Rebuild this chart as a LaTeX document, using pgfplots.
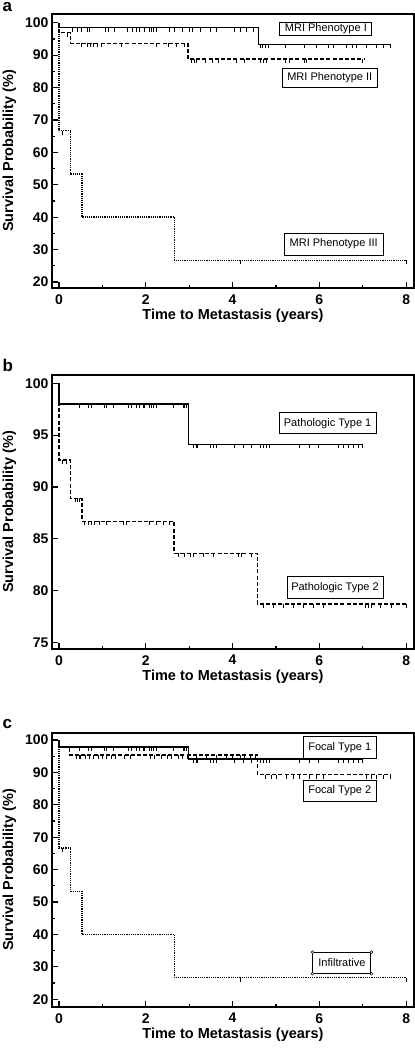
\documentclass[border=0pt]{standalone}
\usepackage{fontspec}
\setmainfont{Liberation Sans}
\usepackage{pgfplots}
\pgfplotsset{compat=1.18}

\pgfdeclareplotmark{cens}{%
  \pgfpathmoveto{\pgfqpoint{0pt}{0pt}}%
  \pgfpathlineto{\pgfqpoint{0pt}{-4pt}}%
  \pgfusepathqstroke}

\tikzset{lbox/.style={draw, line width=1pt, inner sep=0pt, font=\fontsize{11}{11}\selectfont}}

\pgfplotsset{
  km/.style={
    scale only axis, width=362pt, height=274pt,
    xmin=-0.16, xmax=8.18,
    xtick={0,2,4,6,8}, minor x tick num=1,
    xtick pos=bottom, ytick pos=left,
    tick align=inside,
    major tick length=6pt, minor tick length=3pt,
    axis line style={line width=1.8pt},
    every tick/.style={line width=1.2pt, black},
    /pgf/number format/assume math mode=true,
    ticklabel style={font=\fontsize{14}{14}\selectfont\bfseries},
    xticklabel style={yshift=-3pt},
    xlabel={Time to Metastasis (years)},
    ylabel={Survival Probability (\%)},
    every axis x label/.style={at={(rel axis cs:0.5,0)}, anchor=base, yshift=-31.7pt,
      font=\fontsize{14.5}{14.5}\selectfont\bfseries},
    every axis y label/.style={at={(rel axis cs:0,0.5)}, xshift=-42.5pt, rotate=90, anchor=center,
      font=\fontsize{14.5}{14.5}\selectfont\bfseries},
    clip=false,
  },
  sol/.style={black, line width=1.3pt, const plot},
  dsh/.style={black, line width=1.3pt, const plot, dash pattern=on 4pt off 2.2pt},
  dot/.style={black, line width=1.5pt, const plot, dash pattern=on 1.2pt off 1pt},
  cm/.style={only marks, mark=cens, black, line width=0.8pt},
}

\begin{document}
\begin{tikzpicture}
\useasboundingbox (0,0) rectangle (415pt,-1050pt);

% ---------------- panel a ----------------
\node[anchor=base west, font=\fontsize{17}{17}\selectfont\bfseries, inner sep=0pt] at (2.5pt,-11.5pt) {a};
\begin{axis}[km, at={(52pt,-14pt)}, anchor=north west,
  ymin=18.15, ymax=102.7, ytick={20,30,...,100}, minor y tick num=1]
\addplot[sol] coordinates {(0,100) (0,98.5) (4.59,93.3) (7.63,93.3)};
\addplot[cm] coordinates {(0.32,98.5)(0.42,98.5)(0.52,98.5)(0.65,98.5)(0.71,98.5)(1.08,98.5)(1.15,98.5)(1.28,98.5)(1.58,98.5)(1.69,98.5)(1.78,98.5)(1.86,98.5)(1.96,98.5)(2.09,98.5)(2.13,98.5)(2.17,98.5)(2.25,98.5)(2.54,98.5)(2.67,98.5)(2.85,98.5)(3.0,98.5)(3.08,98.5)(3.25,98.5)(3.49,98.5)(3.62,98.5)(4.05,98.5)(4.17,98.5)(4.31,98.5)(4.48,98.5)
(4.63,93.3)(4.69,93.3)(4.75,93.3)(4.82,93.3)(5.21,93.3)(5.65,93.3)(5.94,93.3)(6.21,93.3)(6.32,93.3)(6.63,93.3)(6.77,93.3)(6.86,93.3)(7.09,93.3)(7.32,93.3)(7.48,93.3)(7.63,93.3)};
\addplot[dsh] coordinates {(0,100) (0,96.9) (0.26,93.7) (2.97,88.8) (7.05,88.8)};
\addplot[cm] coordinates {(0.2,96.9)
(0.52,93.7)(0.65,93.7)(0.72,93.7)(0.8,93.7)(0.88,93.7)(0.98,93.7)(1.44,93.7)(2.25,93.7)(2.52,93.7)(2.71,93.7)(2.9,93.7)
(3.05,88.8)(3.11,88.8)(3.17,88.8)(3.38,88.8)(3.54,88.8)(3.67,88.8)(4.09,88.8)(4.28,88.8)(4.65,88.8)(4.71,88.8)(4.78,88.8)(5.21,88.8)(5.32,88.8)(5.65,88.8)(5.71,88.8)(7.0,88.8)};
\addplot[dot] coordinates {(0,100) (0,66.7) (0.27,53.3) (0.53,40) (2.66,26.7) (8,26.7)};
\addplot[cm] coordinates {(0.09,66.7) (4.17,26.7) (8.0,26.7)};
\node[lbox, minimum width=92pt, minimum height=13pt] at (axis cs:6.15,98.2) {MRI Phenotype I};
\node[lbox, minimum width=95pt, minimum height=19pt] at (axis cs:6.24,83.1) {MRI Phenotype II};
\node[lbox, minimum width=99pt, minimum height=22pt] at (axis cs:6.33,31.7) {MRI Phenotype III};
\end{axis}

% ---------------- panel b ----------------
\node[anchor=base west, font=\fontsize{17}{17}\selectfont\bfseries, inner sep=0pt] at (2.5pt,-371.5pt) {b};
\begin{axis}[km, at={(52pt,-374.7pt)}, anchor=north west,
  ymin=74.4, ymax=100.83, ytick={75,80,...,100}]
\addplot[sol] coordinates {(0,100) (0,98) (2.99,94.1) (6.99,94.1)};
\addplot[cm] coordinates {(0.48,98)(0.69,98)(0.75,98)(1.05,98)(1.09,98)(1.25,98)(1.59,98)(1.67,98)(1.78,98)(1.86,98)(1.94,98)(1.98,98)(2.09,98)(2.13,98)(2.17,98)(2.25,98)(2.63,98)(2.86,98)(2.9,98)(2.94,98)
(3.09,94.1)(3.17,94.1)(3.2,94.1)(3.48,94.1)(3.55,94.1)(3.63,94.1)(4.05,94.1)(4.25,94.1)(4.44,94.1)(4.63,94.1)(4.71,94.1)(4.78,94.1)(4.86,94.1)(5.55,94.1)(5.78,94.1)(5.98,94.1)(6.44,94.1)(6.55,94.1)(6.66,94.1)(6.78,94.1)(6.9,94.1)(6.98,94.1)};
\addplot[dsh] coordinates {(0,100) (0,92.6) (0.26,88.9) (0.53,86.7) (2.65,83.6) (4.57,78.7) (8,78.7)};
\addplot[cm] coordinates {(0.09,92.6)(0.17,92.6)
(0.37,88.9)(0.42,88.9)(0.48,88.9)
(0.59,86.7)(0.67,86.7)(0.75,86.7)(0.82,86.7)(0.94,86.7)(1.09,86.7)(1.48,86.7)(1.55,86.7)(2.09,86.7)(2.25,86.7)(2.4,86.7)(2.55,86.7)
(2.75,83.6)(2.9,83.6)(3.02,83.6)(3.09,83.6)(3.32,83.6)(3.55,83.6)(4.13,83.6)(4.21,83.6)(4.44,83.6)
(4.71,78.7)(4.94,78.7)(5.17,78.7)(5.4,78.7)(5.63,78.7)(5.86,78.7)(6.09,78.7)(7.05,78.7)(7.13,78.7)(7.2,78.7)(7.4,78.7)(7.67,78.7)(8.0,78.7)};
\node[lbox, minimum width=97pt, minimum height=21pt] at (axis cs:6.19,96.14) {Pathologic Type 1};
\node[lbox, minimum width=96pt, minimum height=22pt] at (axis cs:6.36,80.27) {Pathologic Type 2};
\end{axis}

% ---------------- panel c ----------------
\node[anchor=base west, font=\fontsize{17}{17}\selectfont\bfseries, inner sep=0pt] at (2.5pt,-728.5pt) {c};
\begin{axis}[km, at={(52pt,-732.7pt)}, anchor=north west,
  ymin=17.7, ymax=102.25, ytick={20,30,...,100}, minor y tick num=1]
\addplot[sol] coordinates {(0,100) (0,97.8) (2.99,94.1) (6.99,94.1)};
\addplot[cm] coordinates {(0.48,97.8)(0.69,97.8)(0.75,97.8)(1.05,97.8)(1.09,97.8)(1.25,97.8)(1.59,97.8)(1.67,97.8)(1.78,97.8)(1.86,97.8)(1.94,97.8)(1.98,97.8)(2.09,97.8)(2.13,97.8)(2.17,97.8)(2.25,97.8)(2.63,97.8)(2.86,97.8)(2.9,97.8)(2.94,97.8)
(3.09,94.1)(3.17,94.1)(3.2,94.1)(3.48,94.1)(3.55,94.1)(3.63,94.1)(4.05,94.1)(4.25,94.1)(4.44,94.1)(4.63,94.1)(4.71,94.1)(4.78,94.1)(4.86,94.1)(5.55,94.1)(5.78,94.1)(5.98,94.1)(6.44,94.1)(6.55,94.1)(6.66,94.1)(6.78,94.1)(6.9,94.1)(6.98,94.1)};
\addplot[dsh] coordinates {(0,100) (0,97.8) (0.25,95.4) (4.58,89.3) (7.65,89.3)};
\addplot[cm] coordinates {(0.4,95.4)(0.46,95.4)(0.5,95.4)(0.6,95.4)(0.7,95.4)(0.8,95.4)(0.9,95.4)(1.0,95.4)(1.1,95.4)(1.2,95.4)(1.3,95.4)(1.5,95.4)(1.65,95.4)(2.1,95.4)(2.2,95.4)(2.35,95.4)(2.5,95.4)(2.6,95.4)(2.75,95.4)(2.85,95.4)(2.95,95.4)(3.17,95.4)(3.4,95.4)(3.63,95.4)(3.86,95.4)(4.0,95.4)(4.17,95.4)(4.28,95.4)(4.4,95.4)(4.52,95.4)
(4.75,89.3)(4.9,89.3)(5.0,89.3)(5.25,89.3)(5.4,89.3)(5.55,89.3)(5.78,89.3)(5.94,89.3)(6.09,89.3)(7.09,89.3)(7.2,89.3)(7.32,89.3)(7.48,89.3)(7.63,89.3)};
\addplot[dot] coordinates {(0,100) (0,66.7) (0.27,53.3) (0.53,40) (2.66,26.7) (8,26.7)};
\addplot[cm] coordinates {(0.09,66.7) (4.17,26.7) (8.0,26.7)};
\node[lbox, minimum width=73pt, minimum height=21.6pt] at (axis cs:6.47,97.7) {Focal Type 1};
\node[lbox, minimum width=73pt, minimum height=21.6pt] at (axis cs:6.47,84.3) {Focal Type 2};
\node[lbox, minimum width=58pt, minimum height=20.6pt] (inf) at (axis cs:6.52,31.2) {Infiltrative};
\draw[black, line width=0.5pt, fill=white] (inf.north west) circle (1.4pt);
\draw[black, line width=0.5pt, fill=white] (inf.north east) circle (1.4pt);
\draw[black, line width=0.5pt, fill=white] (inf.south west) circle (1.4pt);
\draw[black, line width=0.5pt, fill=white] (inf.south east) circle (1.4pt);
\end{axis}
\end{tikzpicture}
\end{document}
